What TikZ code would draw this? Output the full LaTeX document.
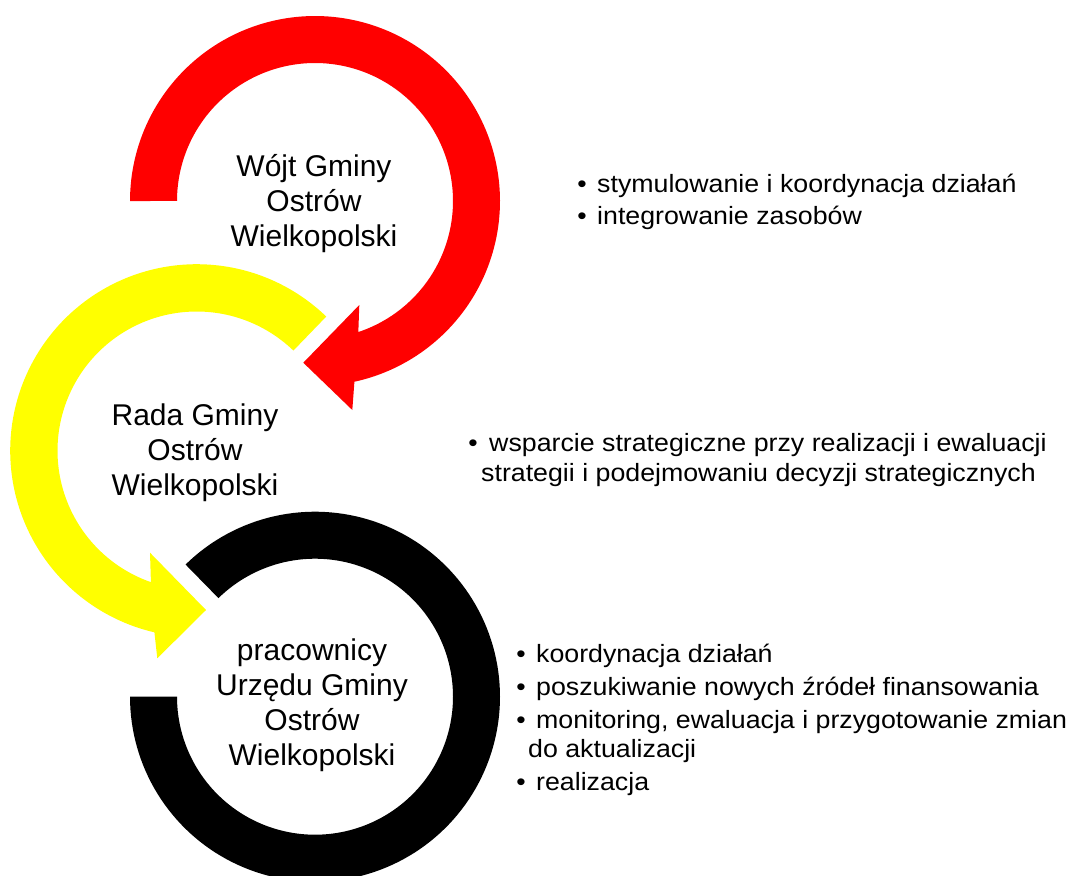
\documentclass[tikz,border=0pt]{standalone}
\usepackage{fontspec}
\setmainfont{Liberation Sans}
\newfontfamily\sidefont[FakeStretch=1.07]{Liberation Sans}
\definecolor{arrowred}{RGB}{255,0,0}
\definecolor{arrowyellow}{RGB}{255,255,0}
\tikzset{
  bigtext/.style={font=\fontsize{30}{34.7}\selectfont, inner sep=0pt, anchor=base},
  sidetext/.style={font=\sidefont\fontsize{25}{30}\selectfont, inner sep=0pt, anchor=base west},
  bulletmark/.style={font=\sidefont\fontsize{25}{30}\selectfont, inner sep=0pt, anchor=base},
}
\begin{document}
\begin{tikzpicture}[x=1pt,y=-1pt]
\useasboundingbox (0,0) rectangle (1073,875);
\clip (0,0) rectangle (1073,875);
\fill[white] (0,0) rectangle (1073,875);

% red circular arrow
\fill[arrowred] plot[domain=180:437.7, samples=160] ({315+185*cos(\x)},{201+185*sin(\x)})
  -- (352.3,410) -- (303.3,362.7) -- (359.3,305)
  -- plot[domain=431.7:180, samples=160] ({315+138*cos(\x)},{201+138*sin(\x)}) -- cycle;

% yellow circular arrow
\fill[arrowyellow] plot[domain=-46:-256.9, samples=160] ({196.7+186.5*cos(\x)},{450.7+186.5*sin(\x)})
  -- (157.3,658.3) -- (206,610) -- (150,552.7)
  -- plot[domain=-250.8:-46, samples=160] ({196.7+139.2*cos(\x)},{450.7+139.2*sin(\x)}) -- cycle;

% black ring
\fill[black] plot[domain=225.6:540, samples=160] ({315+185*cos(\x)},{696.7+185*sin(\x)})
  -- plot[domain=540:225.6, samples=160] ({315+138*cos(\x)},{696.7+138*sin(\x)}) -- cycle;

% texts in circles
\node[bigtext] (w1) at (314,176.7) {Wójt Gminy};
\node[bigtext] (w2) at (314,211.7) {Ostrów};
\node[bigtext] (w3) at (314,246.7) {Wielkopolski};

\node[bigtext] (r1) at (195,425.7) {Rada Gminy};
\node[bigtext] (r2) at (195,460) {Ostrów};
\node[bigtext] (r3) at (195,495) {Wielkopolski};

\node[bigtext] (p1) at (312,660) {pracownicy};
\node[bigtext] (p2) at (312,695) {Urzędu Gminy};
\node[bigtext] (p3) at (312,730) {Ostrów};
\node[bigtext] (p4) at (312,765) {Wielkopolski};

% top list
\node[bulletmark] (tb1) at (582,192) {•};
\node[sidetext] (t1) at (597,192) {stymulowanie i koordynacja działań};
\node[bulletmark] (tb2) at (582,224.5) {•};
\node[sidetext] (t2) at (597,224.5) {integrowanie zasobów};

% middle list
\node[bulletmark] (mb1) at (473,451.7) {•};
\node[sidetext] (m1) at (489,451.7) {wsparcie strategiczne przy realizacji i ewaluacji};
\node[sidetext] (m2) at (481,481.5) {strategii i podejmowaniu decyzji strategicznych};

% bottom list
\node[bulletmark] (bb1) at (521,662) {•};
\node[sidetext] (b1) at (536,662) {koordynacja działań};
\node[bulletmark] (bb2) at (521,695) {•};
\node[sidetext] (b2) at (536,695) {poszukiwanie nowych źródeł finansowania};
\node[bulletmark] (bb3) at (521,728) {•};
\node[sidetext] (b3) at (536,728) {monitoring, ewaluacja i przygotowanie zmian};
\node[sidetext] (b4) at (528,757.5) {do aktualizacji};
\node[bulletmark] (bb5) at (521,790) {•};
\node[sidetext] (b5) at (536,790) {realizacja};
\end{tikzpicture}
\end{document}
